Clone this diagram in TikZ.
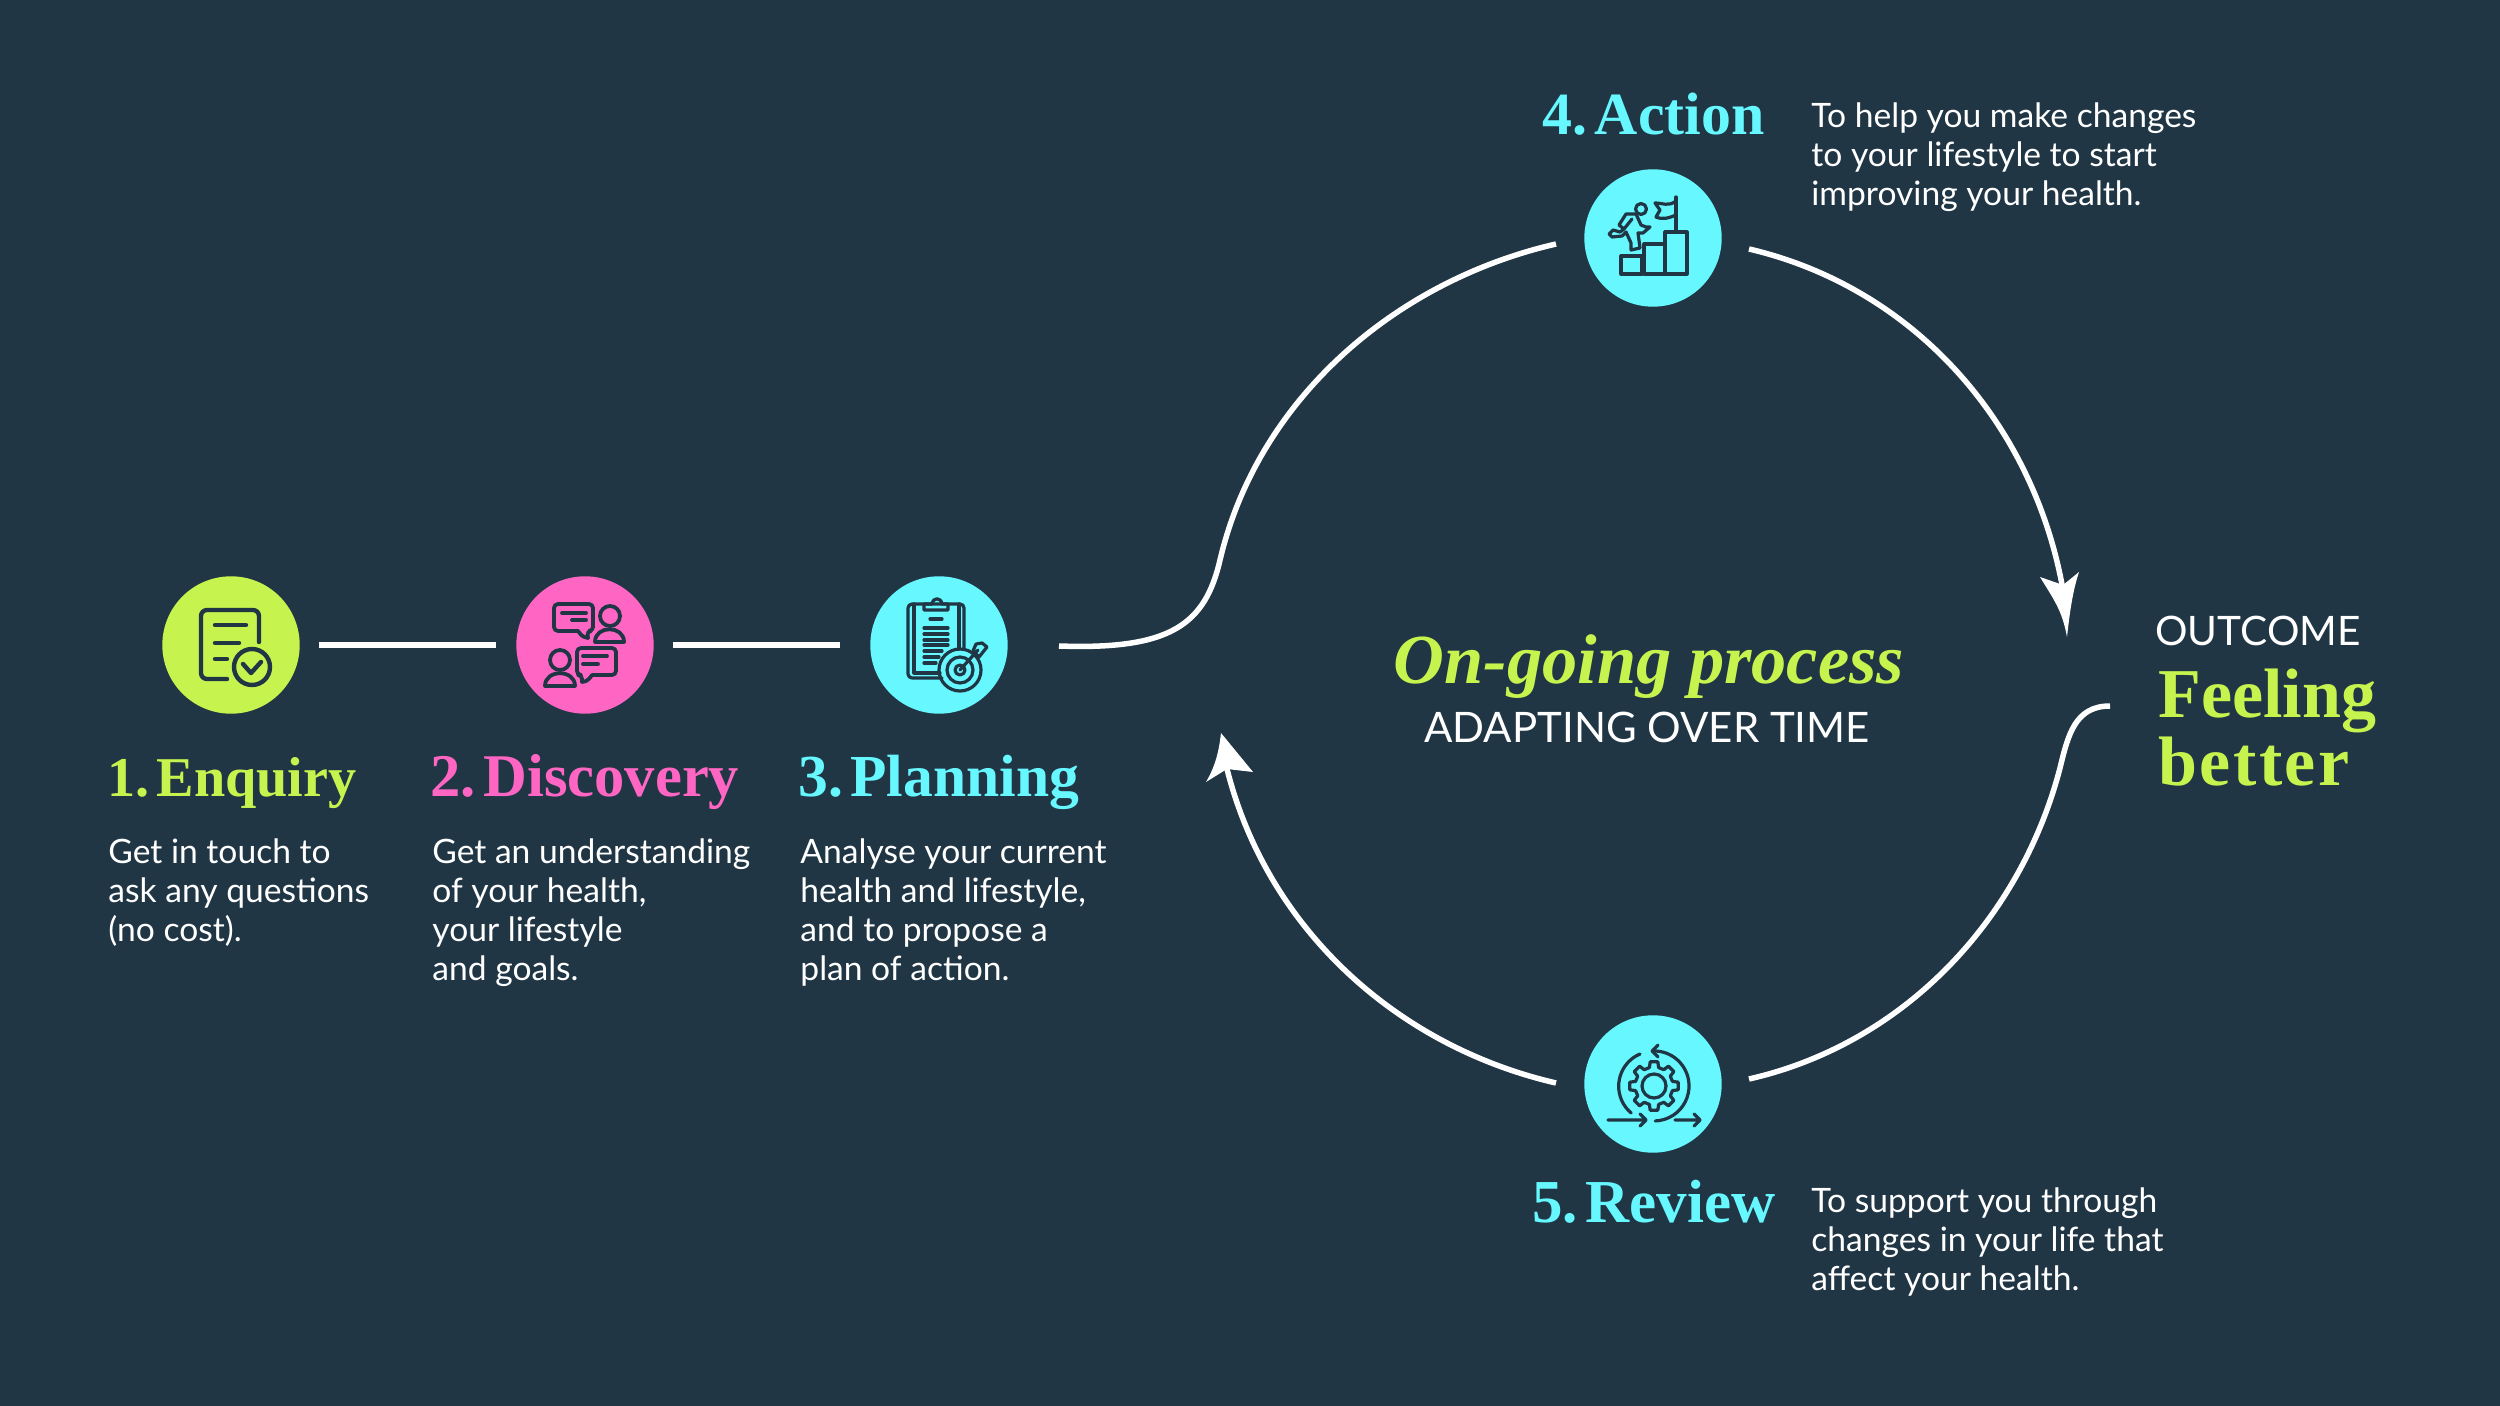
\documentclass[tikz,border=0pt]{standalone}
\usepackage{fontspec}
\setmainfont{Lato}
\newfontfamily\headfont{Liberation Serif}
\definecolor{bgc}{RGB}{32,54,69}
\definecolor{limec}{RGB}{198,243,78}
\definecolor{pinkc}{RGB}{255,102,196}
\definecolor{cyanc}{RGB}{102,247,255}
\tikzset{
 badge/.style={circle,minimum size=68.7pt,inner sep=0pt,fill=#1},
 headtxt/.style 2 args={anchor=base west,inner sep=0pt,text=#1,font=\headfont\bfseries\fontsize{#2}{34}\selectfont},
 bodytxt/.style={anchor=north west,inner sep=0pt,align=left,text=white,font=\fontsize{16.8}{19.5}\selectfont},
 capstxt/.style={inner sep=0pt,text=white,font=\fontsize{#1}{24}\selectfont},
 flow/.style={draw=white,line width=2.75pt},
 tip/.style={fill=white,draw=none},
 icon/.style={draw=bgc,line width=#1,line cap=round,line join=round},
 icon/.default=2pt
}
\newcommand{\nsp}{\kern-0.125em\ }
\begin{document}
\begin{tikzpicture}[x=0.5pt,y=-0.5pt]
\fill[bgc] (0,0) rectangle (2500,1406);
\useasboundingbox (0,0) rectangle (2500,1406);
% badges
\node[badge=limec] (n1) at (231,645) {};
\node[badge=pinkc] (n2) at (585,645) {};
\node[badge=cyanc] (n3) at (939,645) {};
\node[badge=cyanc] (n4) at (1653,238) {};
\node[badge=cyanc] (n5) at (1653,1084) {};
% linear connectors
\draw[flow,shorten <=9.5pt,shorten >=10pt] (n1) -- (n2);
\draw[flow,shorten <=9.5pt,shorten >=15pt] (n2) -- (n3);
% loop connectors
\coordinate (a0) at (1059,646);
\coordinate (a1) at (1220,560);
\coordinate (a2) at (1556,244);
\coordinate (b0) at (1749,249);
\coordinate (b1) at (2063,590);
\coordinate (c0) at (2110,706);
\coordinate (c1) at (2060,768);
\coordinate (c2) at (1749,1079);
\coordinate (d0) at (1556,1083);
\coordinate (d1) at (1227,769);
\draw[flow] (a0) .. controls (1170,650) and (1205,625) .. (a1)
  .. controls (1258,399) and (1395,281) .. (a2);
\draw[flow] (b0) .. controls (1912,287) and (2033,421) .. (b1);
\draw[flow] (c0) .. controls (2075,706) and (2068,735) .. (c1)
  .. controls (2020,921) and (1903,1044) .. (c2);
\draw[flow] (d0) .. controls (1396,1046) and (1267,928) .. (d1);
% arrow heads
\fill[tip] (2067,637) .. controls (2062,610) and (2054,600) .. (2040,577) -- (2063,585) -- (2079,572) .. controls (2073,590) and (2070,610) .. cycle;
\fill[tip] (1221,733) -- (1253,772) -- (1227,769) -- (1206,782) .. controls (1216,765) and (1219,750) .. cycle;
% Icon 1
\begin{scope}[shift={(n1.center)}]
\draw[icon=2.2pt,rounded corners=3pt] (28,-3) -- (28,-35) -- (-30,-35) -- (-30,34) -- (-4,34);
\draw[icon=2.2pt] (-16,-20) -- (15,-20) (-16,-2) -- (8,-2) (-16,14) -- (-4,14);
\draw[icon=2.2pt] (21,22) circle[radius=18];
\draw[icon=2.2pt] (12,19) -- (20,28) -- (30,17);
\end{scope}
% Icon 2
\begin{scope}[shift={(n2.center)}]
\draw[icon=1.9pt,rounded corners=2pt] (-13,-14) -- (-31,-14) -- (-31,-41) -- (8,-41) -- (8,-14) -- (2,-14) -- (3,-7);
\draw[icon=1.9pt] (3,-7) .. controls (-3,-8) and (-5,-11) .. (-7,-14) -- (-13,-14);
\draw[icon=1.9pt] (25,-29) circle[radius=10];
\draw[icon=1.9pt] (10,-3) .. controls (10,-20) and (39,-20) .. (39,-3) -- cycle;
\draw[icon=1.9pt] (-25,15) circle[radius=10];
\draw[icon=1.9pt] (-40,41) .. controls (-40,24) and (-10,24) .. (-10,41) -- cycle;
\draw[icon=1.9pt,rounded corners=2pt] (7,30) -- (31,30) -- (31,3) -- (-8,3) -- (-8,30) -- (-3,30) -- (-3,37);
\draw[icon=1.9pt] (-3,37) .. controls (2,37) and (5,33) .. (7,30);
\draw[icon=1.9pt] (-23,-32) -- (1,-32) (-13,-25) -- (1,-25) (-2,11) -- (22,11) (-2,19) -- (13,19);
\end{scope}
% Icon 3
\begin{scope}[shift={(n3.center)}]
\draw[icon=1.6pt,rounded corners=2pt] (3,33) -- (-31,33) -- (-31,-41) -- (25,-41) -- (25,4);
\draw[icon=1.6pt] (-25,-41) -- (-25,28) -- (1,28) (20,-41) -- (20,4);
\draw[icon=1.6pt] (-15,-41) -- (-15,-35) -- (9,-35) -- (9,-41) -- (3,-41) .. controls (2,-48) and (-6,-48) .. (-7,-41) -- (-15,-41);
\draw[icon=1.6pt] (-9,-26) -- (3,-26) (-15,-17) -- (9,-17) (-15,-11) -- (9,-11) (-15,-5) -- (9,-5) (-15,0) -- (9,0) (-15,6) -- (3,6) (-15,12) -- (0,12) (-15,18) -- (-3,18);
\draw[icon=1.6pt] (21,25) circle[radius=21] (21,25) circle[radius=13] (21,25) circle[radius=5];
\draw[icon=1.6pt] (21,25) -- (39,5) (37,-1) -- (34,6) -- (40,12) -- (48,2) -- (43,-2) -- (37,-1);
\end{scope}
% Icon 4
\begin{scope}[shift={(n4.center)}]
\draw[icon=1.6pt] (-32,18) rectangle (-11,36) (-9,6) rectangle (12,36) (12,-6) rectangle (34,36);
\draw[icon=1.6pt] (23,-6) -- (23,-41);
\draw[icon=1.6pt] (23,-37) .. controls (15,-31) and (10,-35) .. (2,-35) -- (7,-28) -- (3,-21) .. controls (10,-18) and (16,-20) .. (23,-23);
\draw[icon=1.6pt] (-12,-29) circle[radius=5.5];
\draw[icon=1.6pt] (-17,-24) -- (-27,-24) -- (-34,-13) -- (-29,-9) -- (-21,-19) (-17,-24) -- (-12,-13) -- (-7,-11) -- (-3,-11) -- (-10,-5) -- (-15,-5) -- (-13,10) -- (-22,12) -- (-22,5) -- (-27,-6) -- (-31,-2) -- (-41,-1) -- (-44,-4) -- (-40,-8) -- (-33,-6) -- (-29,-9);
\end{scope}
% Icon 5
\begin{scope}[shift={(n5.center)}]
\draw[icon=1.6pt] (1,2) circle[radius=12];
\begin{scope}[shift={(1,2)}]
\foreach \a in {0,45,...,315} {
  \draw[icon=1.6pt] ({\a-14}:19) -- ({\a-9}:24.5) -- ({\a+9}:24.5) -- ({\a+14}:19) -- ({\a+31}:19);
}
\end{scope}
\draw[icon=1.6pt] (-0.8,-33) arc[start angle=-93,end angle=88,radius=35];
\draw[icon=1.6pt] (5,-39) -- (-1,-33) -- (5,-27);
\draw[icon=1.6pt] (-13,-30) arc[start angle=-113,end angle=-230,radius=35];
\draw[icon=1.6pt] (-45,36) -- (-7,36) (-13,30) -- (-7,36) -- (-13,42);
\draw[icon=1.6pt] (22,36) -- (47,36) (41,30) -- (47,36) -- (41,42);
\end{scope}
% headings
\node[headtxt={limec}{28.1}] (h1) at (107,796) {1.\nsp Enquiry};
\node[headtxt={pinkc}{30.3}] (h2) at (430,796) {2.\nsp Discovery};
\node[headtxt={cyanc}{29.8}] (h3) at (798,796) {3.\nsp Planning};
\node[headtxt={cyanc}{29.95}] (h4) at (1542,135) {4.\nsp Action};
\node[headtxt={cyanc}{30.5}] (h5) at (1532,1222) {5.\nsp Review};
% body
\node[bodytxt] (t1) at (108,838.5) {Get in touch to\\ask any questions\\(no cost).};
\node[bodytxt] (t2) at (432,838.5) {Get an understanding\\of your health,\\your lifestyle\\and goals.};
\node[bodytxt] (t3) at (800,838.5) {Analyse your current\\health and lifestyle,\\and to propose a\\plan of action.};
\node[bodytxt] (t4) at (1811,102) {To help you make changes\\to your lifestyle to start\\improving your health.};
\node[bodytxt] (t5) at (1811,1187.5) {To support you through\\changes in your life that\\affect your health.};
% centre
\node[anchor=base,inner sep=0pt,text=limec,font=\headfont\bfseries\itshape\fontsize{35.2}{40}\selectfont] (c1t) at (1649,683.5) {On-going process};
\node[capstxt=21,anchor=base] (c2t) at (1647,742) {ADAPTING OVER TIME};
% outcome
\node[capstxt=20.3,anchor=base west] (o1) at (2155,646) {OUTCOME};
\node[anchor=base west,inner sep=0pt,text=limec,font=\headfont\bfseries\fontsize{35}{42}\selectfont] (o2) at (2158,717) {Feeling};
\node[anchor=base west,inner sep=0pt,text=limec,font=\headfont\bfseries\fontsize{35}{42}\selectfont\addfontfeature{LetterSpace=3.5}] (o3) at (2158,785) {better};
\end{tikzpicture}
\end{document}
